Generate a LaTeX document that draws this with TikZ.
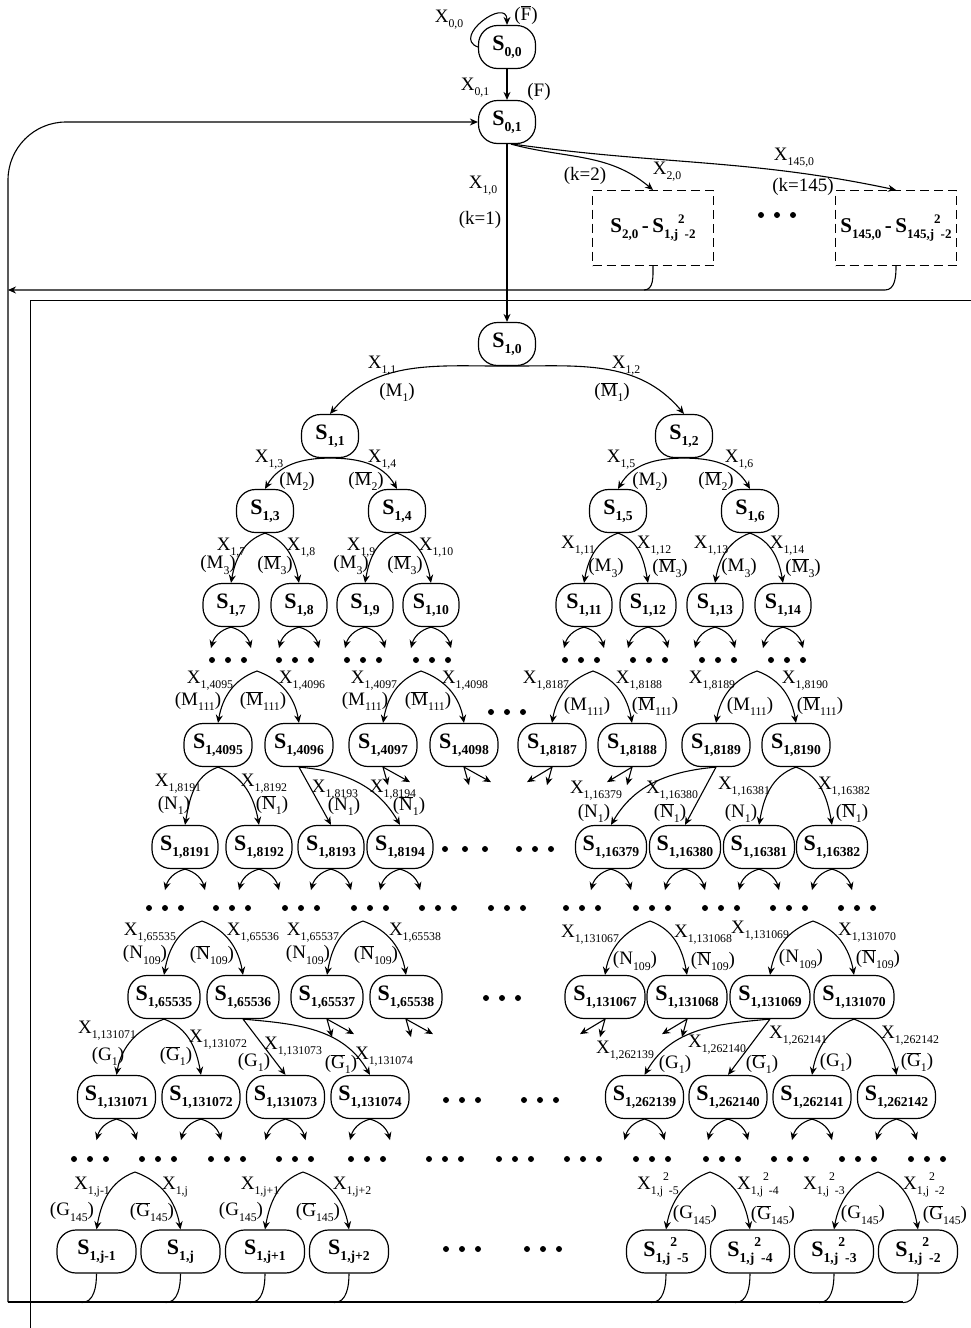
\documentclass[tikz,border=0pt]{standalone}
\usepackage{fontspec}
\setmainfont{Liberation Serif}
\usetikzlibrary{arrows.meta,positioning}
\makeatletter
\newcommand{\sbs}[1]{\raisebox{-0.27em}{\fontsize{\fpeval{0.62*\f@size}}{0}\selectfont #1}}
\newcommand{\sps}[1]{\raisebox{0.45em}{\fontsize{\fpeval{0.62*\f@size}}{0}\selectfont #1}}
\makeatother
\newcommand{\Sn}[1]{S\sbs{#1}}
\newcommand{\Xl}[1]{X\sbs{#1}}
\newcommand{\ob}[1]{\ensuremath{\overline{\mbox{#1}}}}
\newcommand{\cnd}[2]{(#1\sbs{#2})}
\newcommand{\cnb}[2]{(\ob{#1}\sbs{#2})}
\tikzset{
  st/.style={draw, line width=1.2pt, rounded corners=19pt, minimum height=43pt,
             minimum width=57pt, inner sep=2pt,
             font=\fontsize{22}{24}\selectfont\bfseries},
  rng/.style={draw, dash pattern=on 9pt off 5pt, line width=1.1pt,
              minimum width=121pt, minimum height=75pt, inner sep=1pt,
              font=\fontsize{21}{24}\selectfont\bfseries},
  lab/.style={inner sep=0pt, font=\fontsize{19}{21}\selectfont},
  ln/.style={line width=1.1pt},
  frm/.style={line width=0.8pt},
  arr/.style={ln, -{Stealth[length=8pt,width=7pt]}},
  fl/.style={out=200,in=80},
  fr/.style={out=-20,in=100},
  pics/ell/.style={code={\foreach \d in {-16,0,16} \fill (\d,0) circle (3pt);}},
  pics/ellw/.style={code={\foreach \d in {-20,0,20} \fill (\d,0) circle (3pt);}},
}
\begin{document}
\begin{tikzpicture}[x=1pt,y=1pt]
\useasboundingbox (0,0) rectangle (971,-1328);

% start states and the other k branches
\node[st] (s00) at (507,-47) {\Sn{0,0}};
\node[st] (s01) at (507,-122) {\Sn{0,1}};
\node[rng] (rg2) at (653,-228) {\Sn{2,0}\,-\,\Sn{1,j}\sps{2}\sbs{-2}};
\node[rng] (rg145) at (896,-228) {\Sn{145,0}\,-\,\Sn{145,j}\sps{2}\sbs{-2}};
\pic at (777,-215) {ell};

% tree for k=1
\node[st] (s10) at (507,-344) {\Sn{1,0}};
\node[st] (s11) at (330,-436) {\Sn{1,1}};
\node[st] (s12) at (684,-436) {\Sn{1,2}};
\foreach \nm/\xx/\tx in {s13/265/3, s14/397/4, s15/618/5, s16/750/6}
  \node[st] (\nm) at (\xx,-511) {\Sn{1,\tx}};
\foreach \nm/\xx/\tx in {s17/231/7, s18/299/8, s19/365/9, s110/431/10,
    s111/584/11, s112/648/12, s113/715/13, s114/783/14}
  \node[st, minimum width=56pt] (\nm) at (\xx,-605) {\Sn{1,\tx}};
\foreach \nm/\xx in {4095/218, 4096/299, 4097/383, 4098/464,
    8187/552, 8188/632, 8189/716, 8190/796}
  \node[st, minimum width=68pt] (s\nm) at (\xx,-745) {\Sn{1,\nm}};
\foreach \nm/\xx in {8191/185, 8192/259, 8193/331, 8194/400}
  \node[st, minimum width=66pt] (s\nm) at (\xx,-847) {\Sn{1,\nm}};
\foreach \nm/\xx in {16379/611, 16380/685, 16381/759, 16382/832}
  \node[st, minimum width=71pt] (s\nm) at (\xx,-847) {\Sn{1,\nm}};
\foreach \nm/\xx in {65535/164, 65536/243, 65537/327, 65538/406}
  \node[st, minimum width=72pt] (s\nm) at (\xx,-997) {\Sn{1,\nm}};
\foreach \nm/\xx in {131067/605, 131068/687, 131069/770, 131070/854}
  \node[st, minimum width=80pt] (s\nm) at (\xx,-997) {\Sn{1,\nm}};
\foreach \nm/\xx in {131071/116.5, 131072/201, 131073/285.5, 131074/370,
    262139/644.5, 262140/728, 262141/812, 262142/896.5}
  \node[st, minimum width=78pt] (s\nm) at (\xx,-1097) {\Sn{1,\nm}};
\foreach \nm/\xx/\tx in {sj1/96.5/{j-1}, sj/180.5/{j}, sjp1/265/{j+1}, sjp2/349/{j+2}}
  \node[st, minimum width=79pt] (\nm) at (\xx,-1251.5) {\Sn{1,\tx}};
\foreach \nm/\xx/\tx in {sq5/666/5, sq4/750/4, sq3/834/3, sq2/918/2}
  \node[st, minimum width=79pt] (\nm) at (\xx,-1251.5)
    {\Sn{1,j}\sps{2}\sbs{-\tx}};

% dots
\foreach \xx in {228,295,363,432,581,649,718,787} \pic at (\xx,-660) {ell};
\foreach \xx in {165,232,301,370,438,507,582,652,721,789,857} \pic at (\xx,-908) {ell};
\foreach \xx in {90,158,227,295,367,445,515,583,652,722,790,858,927} \pic at (\xx,-1159) {ell};
\pic at (507,-712) {ell};
\pic at (465,-849) {ellw};
\pic at (535,-849) {ell};
\pic at (502,-998) {ell};
\pic at (462,-1100) {ell};
\pic at (540,-1100) {ell};
\pic at (462,-1249) {ell};
\pic at (543,-1249) {ell};

% fork points below the dots
\coordinate (a1) at (257,-671);  \coordinate (a2) at (421,-671);
\coordinate (a3) at (593,-671);  \coordinate (a4) at (757,-671);
\coordinate (b1) at (202,-921);  \coordinate (b2) at (363,-921);
\coordinate (b3) at (650,-921);  \coordinate (b4) at (813,-921);
\coordinate (c1) at (135,-1172); \coordinate (c2) at (303,-1172);
\coordinate (c3) at (710,-1172); \coordinate (c4) at (878,-1172);

% top connectors
\draw[arr] (s00.west) to[out=160,in=90,looseness=2] (s00.north);
\draw[arr] (s00.south) -- (s01.north);
\draw[arr] (s01.south) -- (s10.north);
\draw[arr] (s01.-80) to[out=-15,in=140] (rg2.north);
\draw[arr] (s01.-75) to[out=-8,in=168] (rg145.north);

% feedback lines
\coordinate (j2) at (644,-290);
\coordinate (j145) at (885,-290);
\coordinate (fb) at (8,-290);
\coordinate (bl) at (8,-1302);
\coordinate (br) at (903,-1302);
\coordinate (tl) at (8,-122);
\draw[ln] (rg2.south) to[out=-90,in=0] (j2);
\draw[arr] (rg145.south) to[out=-90,in=0] (j145) -- (fb);
\draw[frm] (971,-300) -- (30,-300) -- (30,-1328);
\draw[ln] (br) -- (bl);
\draw[arr, rounded corners=58pt] (bl) -- (tl) -- (s01.west);
\foreach \nm in {sj1,sj,sjp1,sjp2,sq5,sq4,sq3,sq2}
  \draw[ln] (\nm.south) to[out=-90,in=0] +(-15,-29);

% tree connectors
\draw[arr] (s10.south) to[out=180,in=50] (s11.north);
\draw[arr] (s10.south) to[out=0,in=130] (s12.north);
\draw[arr] (s11.south) to[out=180,in=60] (s13.north);
\draw[arr] (s11.south) to[out=0,in=120] (s14.north);
\draw[arr] (s12.south) to[out=180,in=60] (s15.north);
\draw[arr] (s12.south) to[out=0,in=120] (s16.north);
\foreach \pa/\lc/\rc in {s13/s17/s18, s14/s19/s110, s15/s111/s112, s16/s113/s114,
    s4095/s8191/s8192, s8190/s16381/s16382,
    s65535/s131071/s131072, s131070/s262141/s262142}{
  \draw[arr] (\pa.south) to[fl] (\lc.north);
  \draw[arr] (\pa.south) to[fr] (\rc.north);
}
\foreach \pa/\lc/\rc in {a1/s4095/s4096, a2/s4097/s4098, a3/s8187/s8188, a4/s8189/s8190,
    b1/s65535/s65536, b2/s65537/s65538, b3/s131067/s131068, b4/s131069/s131070,
    c1/sj1/sj, c2/sjp1/sjp2, c3/sq5/sq4, c4/sq3/sq2}{
  \draw[arr] (\pa) to[fl] (\lc.north);
  \draw[arr] (\pa) to[fr] (\rc.north);
}
\draw[arr] (s4096.south) -- (s8193.north);
\draw[arr] (s4096.south) to[out=-5,in=120] (s8194.north);
\draw[arr] (s8189.south) to[out=185,in=60] (s16379.north);
\draw[arr] (s8189.south) -- (s16380.north);
\draw[arr] (s65536.south) -- (s131073.north);
\draw[arr] (s65536.south) to[out=-5,in=120] (s131074.north);
\draw[arr] (s131069.south) to[out=185,in=60] (s262139.north);
\draw[arr] (s131069.south) -- (s262140.north);

% short open branches
\foreach \nm in {s17,s18,s19,s110,s111,s112,s113,s114,
    s8191,s8192,s8193,s8194,s16379,s16380,s16381,s16382,
    s131071,s131072,s131073,s131074,s262139,s262140,s262141,s262142}{
  \draw[arr] (\nm.south) to[out=195,in=75] +(-20,-21);
  \draw[arr] (\nm.south) to[out=-15,in=105] +(20,-21);
}
\foreach \nm in {s4097,s4098,s65537,s65538}{
  \draw[arr] (\nm.south) -- +(5,-18);
  \draw[arr] (\nm.south) -- +(27,-15);
}
\foreach \nm in {s8187,s8188,s131067,s131068}{
  \draw[arr] (\nm.south) -- +(-25,-15);
  \draw[arr] (\nm.south) -- +(-5,-18);
}

% labels
\foreach \nm/\xx/\yy/\tx in {
    lx00/449/20/{\Xl{0,0}}, lf00/526/15/{(\ob{F})},
    lx01/475/88/{\Xl{0,1}}, lf01/539/92/{(F)},
    lx10/483/186/{\Xl{1,0}}, lk1/480/220/{(k=1)},
    lk2/585/176/{(k=2)}, lx20/667/172/{\Xl{2,0}},
    lx145/794/158/{\Xl{145,0}}, lk145/803/187/{(k=145)},
    lx11/382/366/{\Xl{1,1}}, lm11/397/392/{\cnd{M}{1}},
    lx12/626/366/{\Xl{1,2}}, lm12/612/392/{\cnb{M}{1}},
    lx13/269/460/{\Xl{1,3}}, lm13/297/481/{\cnd{M}{2}},
    lx14/382/460/{\Xl{1,4}}, lm14/366/481/{\cnb{M}{2}},
    lx15/621/460/{\Xl{1,5}}, lm15/650/481/{\cnd{M}{2}},
    lx16/739/460/{\Xl{1,6}}, lm16/716/481/{\cnb{M}{2}},
    lx17/231/548/{\Xl{1,7}}, lm17/218/565/{\cnd{M}{3}},
    lx18/301/548/{\Xl{1,8}}, lm18/275/565/{\cnb{M}{3}},
    lx19/361/548/{\Xl{1,9}}, lm19/351/565/{\cnd{M}{3}},
    lx110/436/548/{\Xl{1,10}}, lm110/405/565/{\cnb{M}{3}},
    lx111/578/546/{\Xl{1,11}}, lm111/606/568/{\cnd{M}{3}},
    lx112/654/546/{\Xl{1,12}}, lm112/670/568/{\cnb{M}{3}},
    lx113/711/546/{\Xl{1,13}}, lm113/739/568/{\cnd{M}{3}},
    lx114/787/546/{\Xl{1,14}}, lm114/803/568/{\cnb{M}{3}}}
  \node[lab] (\nm) at (\xx,-\yy) {\tx};
\foreach \nm/\xx/\yy/\tx in {
    lx4095/210/681/{\Xl{1,4095}}, lm4095/198/701/{\cnd{M}{111}},
    lx4096/302/681/{\Xl{1,4096}}, lm4096/263/701/{\cnb{M}{111}},
    lx4097/374/681/{\Xl{1,4097}}, lm4097/365/701/{\cnd{M}{111}},
    lx4098/465/681/{\Xl{1,4098}}, lm4098/428/701/{\cnb{M}{111}},
    lx8187/546/681/{\Xl{1,8187}}, lm8187/587/706/{\cnd{M}{111}},
    lx8188/639/681/{\Xl{1,8188}}, lm8188/655/706/{\cnb{M}{111}},
    lx8189/712/681/{\Xl{1,8189}}, lm8189/750/706/{\cnd{M}{111}},
    lx8190/805/681/{\Xl{1,8190}}, lm8190/820/706/{\cnb{M}{111}},
    lx8191/178/784/{\Xl{1,8191}}, ln8191/174/805/{\cnd{N}{1}},
    lx8192/264/784/{\Xl{1,8192}}, ln8192/272/805/{\cnb{N}{1}},
    lx8193/335/790/{\Xl{1,8193}}, ln8193/344/806/{\cnd{N}{1}},
    lx8194/393/790/{\Xl{1,8194}}, ln8194/409/806/{\cnb{N}{1}},
    lx16379/596/791/{\Xl{1,16379}}, ln16379/594/813/{\cnd{N}{1}},
    lx16380/672/791/{\Xl{1,16380}}, ln16380/670/813/{\cnb{N}{1}},
    lx16381/744/787/{\Xl{1,16381}}, ln16381/741/813/{\cnd{N}{1}},
    lx16382/844/787/{\Xl{1,16382}}, ln16382/852/813/{\cnb{N}{1}}}
  \node[lab] (\nm) at (\xx,-\yy) {\tx};
\foreach \nm/\xx/\yy/\tx in {
    lx65535/150/933/{\Xl{1,65535}}, ln65535/145/955/{\cnd{N}{109}},
    lx65536/253/933/{\Xl{1,65536}}, ln65536/212/955/{\cnb{N}{109}},
    lx65537/313/933/{\Xl{1,65537}}, ln65537/308/955/{\cnd{N}{109}},
    lx65538/415/933/{\Xl{1,65538}}, ln65538/376/955/{\cnb{N}{109}},
    lx131067/590/935/{\Xl{1,131067}}, ln131067/635/961/{\cnd{N}{109}},
    lx131068/703/935/{\Xl{1,131068}}, ln131068/713/961/{\cnb{N}{109}},
    lx131069/760/931/{\Xl{1,131069}}, ln131069/801/959/{\cnd{N}{109}},
    lx131070/867/933/{\Xl{1,131070}}, ln131070/878/959/{\cnb{N}{109}},
    lx131071/107/1031/{\Xl{1,131071}}, lg131071/108/1056/{\cnd{G}{1}},
    lx131072/218/1040/{\Xl{1,131072}}, lg131072/176/1056/{\cnb{G}{1}},
    lx131073/293/1047/{\Xl{1,131073}}, lg131073/254/1062/{\cnd{G}{1}},
    lx131074/384/1057/{\Xl{1,131074}}, lg131074/341/1064/{\cnb{G}{1}},
    lx262139/625/1051/{\Xl{1,262139}}, lg262139/675/1064/{\cnd{G}{1}},
    lx262140/717/1045/{\Xl{1,262140}}, lg262140/762/1064/{\cnb{G}{1}},
    lx262141/798/1036/{\Xl{1,262141}}, lg262141/836/1062/{\cnd{G}{1}},
    lx262142/910/1036/{\Xl{1,262142}}, lg262142/917/1062/{\cnb{G}{1}}}
  \node[lab] (\nm) at (\xx,-\yy) {\tx};
\foreach \nm/\xx/\yy/\tx in {
    lxj1/92/1187/{\Xl{1,j-1}}, lgj1/72/1212/{\cnd{G}{145}},
    lxj/175/1187/{\Xl{1,j}}, lgj/152/1212/{\cnb{G}{145}},
    lxjp1/260/1187/{\Xl{1,j+1}}, lgjp1/241/1212/{\cnd{G}{145}},
    lxjp2/352/1187/{\Xl{1,j+2}}, lgjp2/318/1212/{\cnb{G}{145}},
    lxq5/658/1185/{\Xl{1,j}\sps{2}\sbs{-5}}, lgq5/695/1215/{\cnd{G}{145}},
    lxq4/758/1185/{\Xl{1,j}\sps{2}\sbs{-4}}, lgq4/773/1215/{\cnb{G}{145}},
    lxq3/824/1185/{\Xl{1,j}\sps{2}\sbs{-3}}, lgq3/863/1215/{\cnd{G}{145}},
    lxq2/924/1185/{\Xl{1,j}\sps{2}\sbs{-2}}, lgq2/945/1215/{\cnb{G}{145}}}
  \node[lab] (\nm) at (\xx,-\yy) {\tx};
\end{tikzpicture}
\end{document}
